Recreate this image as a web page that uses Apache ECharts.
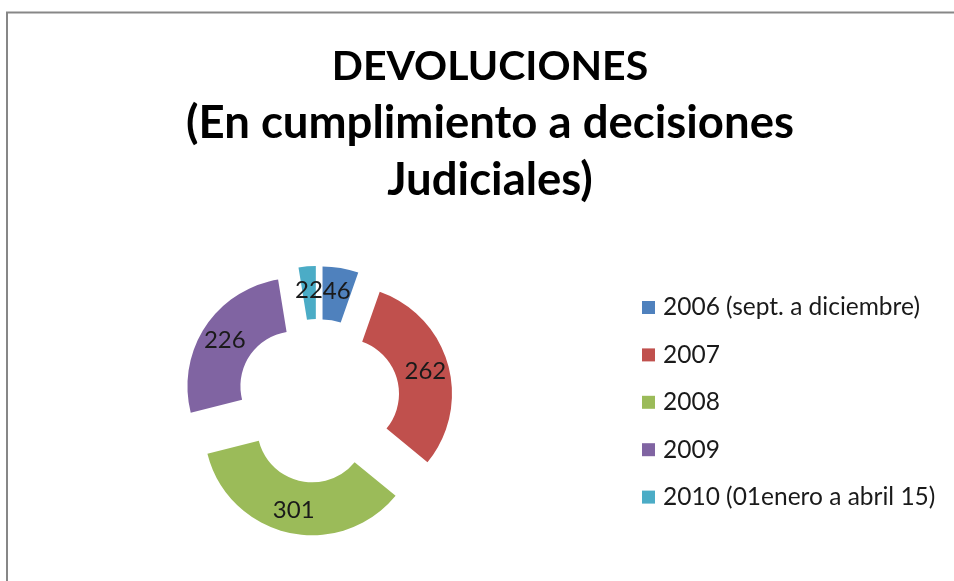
<!DOCTYPE html>
<html>
<head>
<meta charset="utf-8">
<script src="https://cdn.jsdelivr.net/npm/echarts@6/dist/echarts.min.js"></script>
<style>
html,body{margin:0;padding:0;background:#fff;}
#chart{width:954px;height:581px;}
</style>
</head>
<body>
<div id="chart"></div>
<script>
const titleLines = ['DEVOLUCIONES', '(En cumplimiento a decisiones', 'Judiciales)'];
const categories = ['2006 (sept. a diciembre)', '2007', '2008', '2009', '2010 (01enero a abril 15)'];
const values = [46, 262, 301, 226, 22];
const colors = ['#4F81BD', '#C0504D', '#9BBB59', '#8064A2', '#4BACC6'];

const chart = echarts.init(document.getElementById('chart'), null, {renderer: 'canvas'});
chart.setOption({
  animation: false,
  backgroundColor: '#ffffff',
  color: colors,
  graphic: [{
    type: 'rect',
    shape: {x: 7, y: 12.5, width: 1000, height: 1000},
    style: {fill: 'none', stroke: '#878787', lineWidth: 2},
    silent: true
  }],
  title: {
    text: '{a|' + titleLines[0] + '}\n{b|' + titleLines[1] + '}\n{b|' + titleLines[2] + '}',
    left: 485,
    top: 33,
    padding: 5,
    textAlign: 'center',
    textStyle: {
      fontFamily: 'Lato',
      fontWeight: 'bold',
      fontSize: 41,
      lineHeight: 57,
      color: '#000000',
      rich: {
        a: {fontFamily: 'Lato', fontWeight: 'bold', fontSize: 41, lineHeight: 57, color: '#000000'},
        b: {fontFamily: 'Lato', fontWeight: 'bold', fontSize: 45.5, lineHeight: 57, color: '#000000'}
      }
    }
  },
  legend: {
    orient: 'vertical',
    left: 637,
    top: 290,
    itemWidth: 13,
    itemHeight: 13,
    itemGap: 22.4,
    icon: 'rect',
    selectedMode: false,
    data: categories,
    textStyle: {
      fontFamily: 'Lato',
      fontSize: 24.5,
      color: '#1a1a1a',
      padding: [0, 0, 0, 3]
    }
  },
  series: [{
    type: 'pie',
    center: [318, 401],
    radius: [55, 108],
    startAngle: 90,
    clockwise: true,
    selectedMode: 'multiple',
    selectedOffset: 27,
    avoidLabelOverlap: false,
    minShowLabelAngle: 0,
    silent: true,
    emphasis: {disabled: true, scale: false},
    labelLayout: {hideOverlap: false},
    label: {
      show: true,
      position: 'inside',
      formatter: '{c}',
      fontFamily: 'Lato',
      fontSize: 24,
      color: '#1a1a1a'
    },
    labelLine: {show: false},
    itemStyle: {borderWidth: 0},
    data: categories.map((c, i) => ({name: c, value: values[i], selected: true}))
  }]
});
</script>
</body>
</html>
